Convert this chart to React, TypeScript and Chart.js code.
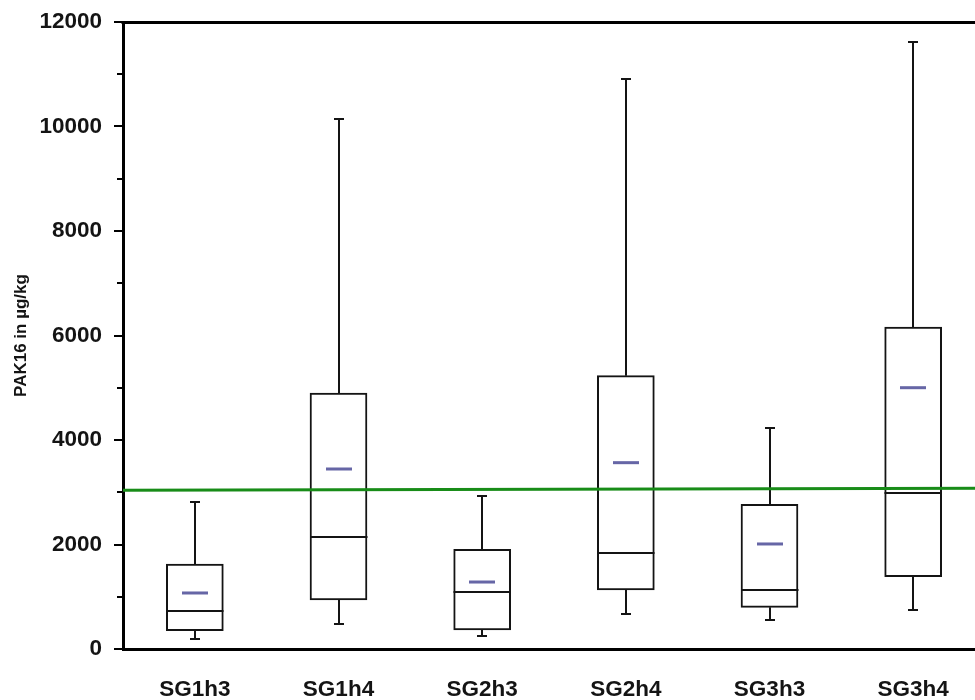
import React, { useEffect, useRef } from 'react';
import { Chart, registerables } from 'chart.js';

Chart.register(...registerables);

const categories = ['SG1h3', 'SG1h4', 'SG2h3', 'SG2h4', 'SG3h3', 'SG3h4'];
const whiskerLow = [190, 478, 249, 679, 555, 754];
const quartile1 = [350, 938, 364, 1129, 798, 1384];
const medians = [727, 2149, 1091, 1837, 1129, 2986];
const quartile3 = [1627, 4900, 1908, 5231, 2769, 6163];
const whiskerHigh = [2813, 10138, 2928, 10909, 4235, 11611];
const means = [1072, 3445, 1282, 3566, 2010, 5001];
const limitLineX = [0, 6];
const limitLineY = [3040, 3078];
const yMinorTicks = [1000, 3000, 5000, 7000, 9000, 11000];
const yTitle = 'PAK16 in µg/kg';

const FONT = "'Liberation Sans', Arial, sans-serif";
const INK = '#141414';

const boxExtras = {
  id: 'boxExtras',
  afterDatasetDraw(chart: any, args: any) {
    if (args.index !== 0) return;
    const ctx = chart.ctx;
    const xs = chart.scales.x;
    const ys = chart.scales.y;
    const meta = chart.getDatasetMeta(0);
    ctx.save();
    ctx.strokeStyle = INK;
    ctx.lineWidth = 2;
    meta.data.forEach((bar: any, i: number) => {
      const cx = Math.round(xs.getPixelForValue(i));
      const half = bar.width / 2;
      const yq1 = ys.getPixelForValue(quartile1[i]);
      const yq3 = ys.getPixelForValue(quartile3[i]);
      const ylo = Math.round(ys.getPixelForValue(whiskerLow[i]));
      const yhi = Math.round(ys.getPixelForValue(whiskerHigh[i]));
      const ymed = Math.round(ys.getPixelForValue(medians[i]));
      const ymean = ys.getPixelForValue(means[i]);
      ctx.beginPath();
      ctx.moveTo(cx, yq3);
      ctx.lineTo(cx, yhi);
      ctx.moveTo(cx - 5, yhi);
      ctx.lineTo(cx + 5, yhi);
      ctx.moveTo(cx, yq1);
      ctx.lineTo(cx, ylo);
      ctx.moveTo(cx - 5, ylo);
      ctx.lineTo(cx + 5, ylo);
      ctx.moveTo(cx - half, ymed);
      ctx.lineTo(cx + half, ymed);
      ctx.stroke();
      ctx.fillStyle = '#6666a6';
      ctx.fillRect(cx - 13, ymean - 1.5, 26, 3);
    });
    ctx.restore();
  },
};

const axisExtras = {
  id: 'axisExtras',
  afterDraw(chart: any) {
    const ctx = chart.ctx;
    const ys = chart.scales.y;
    const area = chart.chartArea;
    ctx.save();
    ctx.strokeStyle = '#000';
    ctx.lineWidth = 2;
    ctx.beginPath();
    yMinorTicks.forEach((v) => {
      const y = Math.round(ys.getPixelForValue(v));
      ctx.moveTo(area.left - 6, y);
      ctx.lineTo(area.left, y);
    });
    ctx.stroke();
    ctx.lineWidth = 3;
    ctx.beginPath();
    ctx.moveTo(area.left - 1.5, Math.round(area.top) + 0.5);
    ctx.lineTo(chart.width, Math.round(area.top) + 0.5);
    ctx.stroke();
    ctx.restore();
  },
};

export default function App() {
  const ref = useRef<HTMLCanvasElement | null>(null);

  useEffect(() => {
    if (!ref.current) return;
    const chart = new Chart(ref.current, {
      type: 'bar',
      data: {
        labels: categories,
        datasets: [
          {
            type: 'bar',
            data: categories.map((_, i) => [quartile1[i], quartile3[i]]) as any,
            backgroundColor: '#ffffff',
            borderColor: INK,
            borderWidth: 2,
            borderSkipped: false,
            barThickness: 57,
            grouped: false,
            order: 2,
            xAxisID: 'x',
            yAxisID: 'y',
          } as any,
          {
            type: 'line',
            data: limitLineX.map((x, i) => ({ x, y: limitLineY[i] })) as any,
            borderColor: '#188c18',
            borderWidth: 3,
            pointRadius: 0,
            fill: false,
            order: 1,
            xAxisID: 'x2',
            yAxisID: 'y',
          } as any,
        ],
      },
      options: {
        responsive: false,
        animation: false,
        layout: { padding: { top: 22, right: 5, left: 0, bottom: 0 } },
        plugins: {
          legend: { display: false },
          tooltip: { enabled: false },
        },
        scales: {
          x: {
            type: 'category',
            offset: true,
            grid: { display: false },
            border: { display: true, width: 3, color: '#000' },
            ticks: {
              color: INK,
              padding: 19,
              font: { family: FONT, size: 22.5, weight: 'bold' },
              maxRotation: 0,
            },
            afterFit: (s: any) => {
              s.height = 51;
            },
          },
          x2: {
            type: 'linear',
            display: false,
            offset: false,
            grid: { offset: false },
            min: 0,
            max: 6,
          },
          y: {
            type: 'linear',
            min: 0,
            max: 12000,
            grid: {
              display: true,
              drawOnChartArea: false,
              drawTicks: true,
              tickLength: 9,
              color: '#000',
              lineWidth: 2,
            },
            border: { display: true, width: 3, color: '#000' },
            ticks: {
              stepSize: 2000,
              padding: 12,
              color: INK,
              font: { family: FONT, size: 22.5, weight: 'bold' },
              callback: (v: any) => String(v),
            },
            title: {
              display: true,
              text: yTitle,
              color: INK,
              padding: { top: 11, bottom: 0 },
              font: { family: FONT, size: 17, weight: 'bold' },
            },
            afterFit: (s: any) => {
              s.width = 123;
              s.paddingTop = 0;
              s.paddingBottom = 0;
            },
          },
        },
      },
      plugins: [boxExtras, axisExtras],
    });
    return () => chart.destroy();
  }, []);

  return (
    <div
      style={{
        position: 'fixed',
        left: 0,
        top: 0,
        width: 975,
        height: 700,
        overflow: 'hidden',
        background: '#fff',
      }}
    >
      <canvas ref={ref} width={990} height={700} style={{ display: 'block' }} />
    </div>
  );
}
